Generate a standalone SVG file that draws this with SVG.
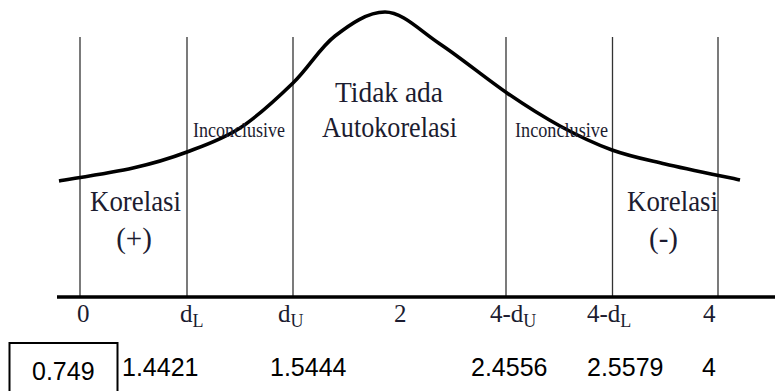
<svg xmlns="http://www.w3.org/2000/svg" width="775" height="391" viewBox="0 0 775 391">
<style>
.vl{stroke:#333;stroke-width:1.3;fill:none}
.serif{font-family:"Liberation Serif","Times New Roman",serif;fill:#1c1c30}
.big{font-size:29px}
.small{font-size:20.5px}
.ax{font-size:25px}
.num{font-family:"Liberation Sans",Arial,sans-serif;font-size:25px;fill:#000}
</style>
<rect width="775" height="391" fill="#fff"/>
<g id="connectors">
<line class="vl" x1="80" y1="37" x2="80" y2="297"/>
<line class="vl" x1="187" y1="37" x2="187" y2="297"/>
<line class="vl" x1="293" y1="37" x2="293" y2="297"/>
<line class="vl" x1="506" y1="37" x2="506" y2="297"/>
<line class="vl" x1="612.5" y1="37" x2="612.5" y2="297"/>
<line class="vl" x1="718" y1="37" x2="718" y2="297"/>
<line id="axis" x1="57" y1="297" x2="775" y2="297" stroke="#000" stroke-width="3.5"/>
<path id="curve" fill="none" stroke="#000" stroke-width="3.6" stroke-linecap="butt" d="M59,181 C71.3,178.8 111.7,172.8 133,168 C154.3,163.2 169.2,158.7 187,152 C204.8,145.3 222.3,139.5 240,128 C257.7,116.5 277.2,98.3 293,83 C308.8,67.7 319.7,47.8 335,36 C350.3,24.2 367.5,12 385,12 C402.5,12 419.7,30.5 440,44 C460.3,57.5 487,79.3 507,93 C527,106.7 542.5,116.5 560,126 C577.5,135.5 594.5,143.7 612,150 C629.5,156.3 643.7,159 665,164 C686.3,169 727.5,177.3 740,180"/>
</g>
<g id="label-korelasi-plus">
<text class="serif big" x="90" y="210.5" textLength="91" lengthAdjust="spacingAndGlyphs">Korelasi</text>
<text class="serif big" x="134" y="248" text-anchor="middle">(+)</text>
</g>
<g id="label-inconclusive-left">
<text class="serif small" x="193" y="136.5" textLength="92" lengthAdjust="spacingAndGlyphs">Inconclusive</text>
</g>
<g id="label-tidak-ada">
<text class="serif big" x="335" y="101.5" textLength="108" lengthAdjust="spacingAndGlyphs">Tidak ada</text>
<text class="serif big" x="322" y="136.5" textLength="135" lengthAdjust="spacingAndGlyphs">Autokorelasi</text>
</g>
<g id="label-inconclusive-right">
<text class="serif small" x="515" y="136.5" textLength="93" lengthAdjust="spacingAndGlyphs">Inconclusive</text>
</g>
<g id="label-korelasi-minus">
<text class="serif big" x="627" y="210.5" textLength="91" lengthAdjust="spacingAndGlyphs">Korelasi</text>
<text class="serif big" x="663.5" y="248" text-anchor="middle">(-)</text>
</g>
<g id="axis-labels">
<text class="serif ax" x="77" y="321.5">0</text>
<text class="serif ax" x="180" y="321.5">d<tspan font-size="18" dy="5">L</tspan></text>
<text class="serif ax" x="278" y="321.5">d<tspan font-size="18" dy="5">U</tspan></text>
<text class="serif ax" x="394" y="321.5">2</text>
<text class="serif ax" x="490" y="321.5">4-d<tspan font-size="18" dy="5">U</tspan></text>
<text class="serif ax" x="587" y="321.5">4-d<tspan font-size="18" dy="5">L</tspan></text>
<text class="serif ax" x="703" y="321.5">4</text>
</g>
<g id="box-0749">
<rect x="9.5" y="343" width="108" height="60" fill="none" stroke="#000" stroke-width="2"/>
<text class="num" x="32" y="380">0.749</text>
</g>
<g id="values">
<text class="num" x="122" y="376">1.4421</text>
<text class="num" x="270" y="376">1.5444</text>
<text class="num" x="471" y="376">2.4556</text>
<text class="num" x="587" y="376">2.5579</text>
<text class="num" x="702" y="376">4</text>
</g>
</svg>
